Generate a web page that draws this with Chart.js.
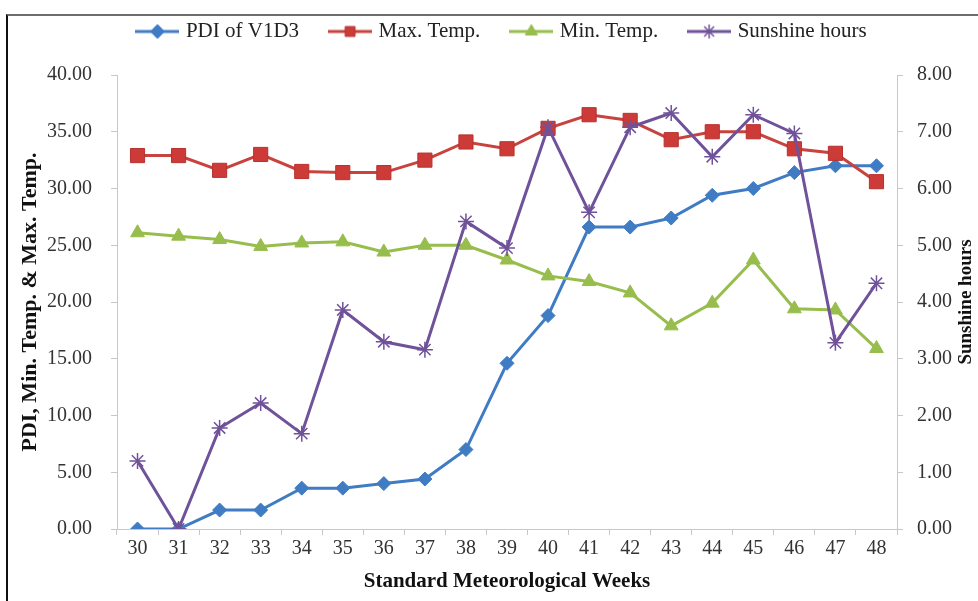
<!DOCTYPE html>
<html>
<head>
<meta charset="utf-8">
<script src="https://cdn.jsdelivr.net/npm/chart.js@4.4.1/dist/chart.umd.min.js"></script>
<style>
  html, body { margin: 0; padding: 0; background: #ffffff; }
  #wrap { position: relative; width: 978px; height: 601px; overflow: hidden; }
  #frame { position: absolute; left: 6px; top: 14px; right: -4px; bottom: -4px;
           border-top: 2px solid #6e6e6e; border-left: 2px solid #111; }
  canvas { position: absolute; left: 0; top: 0; }
</style>
</head>
<body>
<div id="wrap">
  <div id="frame"></div>
  <canvas id="chart" width="978" height="601"></canvas>
</div>
<script>
// Standard meteorological weeks
const weeks = ['30','31','32','33','34','35','36','37','38','39','40','41','42','43','44','45','46','47','48'];

// Percent disease index of V1D3
const pdi = [0.00, 0.00, 1.67, 1.67, 3.60, 3.60, 4.00, 4.40, 7.00, 14.60, 18.80, 26.60, 26.60, 27.40, 29.40, 30.00, 31.40, 32.00, 32.00];

// Maximum and minimum temperature (°C)
const maxTemp = [32.9, 32.9, 31.6, 33.0, 31.5, 31.4, 31.4, 32.5, 34.1, 33.5, 35.3, 36.5, 36.0, 34.3, 35.0, 35.0, 33.5, 33.1, 30.6];
const minTemp = [26.1, 25.8, 25.5, 24.9, 25.2, 25.3, 24.4, 25.0, 25.0, 23.7, 22.3, 21.8, 20.8, 17.9, 19.9, 23.7, 19.4, 19.3, 15.9];

// Bright sunshine hours per day (secondary axis)
const sunshine = [1.20, 0.00, 1.78, 2.22, 1.68, 3.86, 3.30, 3.16, 5.42, 4.95, 7.08, 5.58, 7.08, 7.33, 6.56, 7.30, 6.97, 3.28, 4.33];

const leftTicks = { min: 0, max: 40, step: 5 };
const rightTicks = { min: 0, max: 8, step: 1 };

const SERIF = "'Liberation Serif', 'Times New Roman', serif";
const AXIS_GREY = '#c8c8c8';

const colors = {
  pdi: '#3f7cc4',
  maxT: '#cc3b37',
  maxLine: '#c8423e',
  minT: '#97bd4c',
  sun: '#6f529a'
};

// Small line-plus-marker swatch used as the legend symbol
function legendIcon(ds) {
  const c = document.createElement('canvas');
  c.width = 44; c.height = 18;
  const ctx = c.getContext('2d');
  ctx.strokeStyle = ds.borderColor;
  ctx.lineWidth = 3;
  ctx.beginPath(); ctx.moveTo(0, 9); ctx.lineTo(44, 9); ctx.stroke();
  ctx.fillStyle = ds.pointBackgroundColor;
  ctx.strokeStyle = ds.pointBorderColor;
  ctx.lineWidth = ds.pointBorderWidth || 1;
  Chart.helpers.drawPoint(ctx, {
    pointStyle: ds.pointStyle,
    radius: Math.min(ds.pointRadius, 7),
    rotation: 0,
    borderWidth: ds.pointBorderWidth || 1
  }, 22, 9);
  return c;
}

// Right-hand axis title, read bottom-to-top like the left one
const rightTitle = {
  id: 'rightTitle',
  afterDraw(chart) {
    const ctx = chart.ctx;
    const area = chart.chartArea;
    ctx.save();
    ctx.translate(966, (area.top + area.bottom) / 2);
    ctx.rotate(-Math.PI / 2);
    ctx.font = "bold 19px " + SERIF;
    ctx.fillStyle = '#111';
    ctx.textAlign = 'center';
    ctx.textBaseline = 'middle';
    ctx.fillText('Sunshine hours', 0, 0);
    ctx.restore();
  }
};

new Chart(document.getElementById('chart'), {
  type: 'line',
  data: {
    labels: weeks,
    datasets: [
      {
        label: 'PDI of V1D3', data: pdi, yAxisID: 'y', order: 3,
        borderColor: colors.pdi, backgroundColor: colors.pdi,
        pointBackgroundColor: colors.pdi, pointBorderColor: colors.pdi,
        borderWidth: 3, pointStyle: 'rectRot', pointRadius: 7, pointBorderWidth: 1
      },
      {
        label: 'Max. Temp.', data: maxTemp, yAxisID: 'y', order: 2,
        borderColor: colors.maxLine, backgroundColor: colors.maxT,
        pointBackgroundColor: colors.maxT, pointBorderColor: '#b8322f',
        borderWidth: 3, pointStyle: 'rect', pointRadius: 10, pointBorderWidth: 1
      },
      {
        label: 'Min. Temp.', data: minTemp, yAxisID: 'y', order: 1,
        borderColor: colors.minT, backgroundColor: colors.minT,
        pointBackgroundColor: colors.minT, pointBorderColor: colors.minT,
        borderWidth: 3, pointStyle: 'triangle', pointRadius: 8, pointBorderWidth: 1
      },
      {
        label: 'Sunshine hours', data: sunshine, yAxisID: 'y1', order: 0,
        borderColor: colors.sun, backgroundColor: colors.sun,
        pointBackgroundColor: colors.sun, pointBorderColor: colors.sun,
        borderWidth: 3, pointStyle: 'star', pointRadius: 8, pointBorderWidth: 1.5
      }
    ]
  },
  options: {
    responsive: false,
    animation: false,
    events: [],
    // right padding runs past the canvas edge so the legend sits centred over the plot
    layout: { padding: { left: 8, right: -20, top: -12, bottom: 0 } },
    plugins: {
      tooltip: { enabled: false },
      legend: {
        position: 'top',
        labels: {
          usePointStyle: true,
          pointStyleWidth: 36,
          padding: 33,
          color: '#222',
          font: { family: SERIF, size: 21 },
          generateLabels(chart) {
            return chart.data.datasets.map((ds, i) => ({
              text: ds.label,
              datasetIndex: i,
              pointStyle: legendIcon(ds),
              fillStyle: ds.borderColor,
              strokeStyle: ds.borderColor,
              lineWidth: 0,
              fontColor: '#222',
              hidden: !chart.isDatasetVisible(i)
            }));
          }
        }
      }
    },
    scales: {
      x: {
        type: 'category',
        offset: true,
        grid: { display: true, drawOnChartArea: false, offset: true, tickLength: 6, color: AXIS_GREY },
        border: { display: true, color: AXIS_GREY, width: 1 },
        ticks: { color: '#333', padding: 2, maxRotation: 0, autoSkip: false, font: { family: SERIF, size: 20 } },
        title: { display: true, text: 'Standard Meteorological Weeks', color: '#111',
                 font: { family: SERIF, size: 21, weight: 'bold' }, padding: { top: 4, bottom: 7 } },
        afterFit(scale) { scale.height = 72; }
      },
      // empty band between the legend and the plot
      xTop: {
        type: 'category',
        position: 'top',
        offset: true,
        grid: { display: false },
        border: { display: false },
        ticks: { display: false },
        afterFit(scale) { scale.height = 23; }
      },
      y: {
        position: 'left',
        min: leftTicks.min, max: leftTicks.max,
        grid: { display: true, drawOnChartArea: false, tickLength: 6, color: AXIS_GREY },
        border: { display: true, color: AXIS_GREY, width: 1 },
        ticks: { stepSize: leftTicks.step, color: '#333', padding: 19,
                 font: { family: SERIF, size: 20 }, callback: v => v.toFixed(2) },
        title: { display: true, text: 'PDI, Min. Temp. & Max. Temp.', color: '#111',
                 font: { family: SERIF, size: 22, weight: 'bold' }, padding: { top: 9, bottom: 0 } },
        afterFit(scale) { scale.width = 109; }
      },
      y1: {
        position: 'right',
        min: rightTicks.min, max: rightTicks.max,
        grid: { display: true, drawOnChartArea: false, tickLength: 6, color: AXIS_GREY },
        border: { display: true, color: AXIS_GREY, width: 1 },
        ticks: { stepSize: rightTicks.step, color: '#333', padding: 14,
                 font: { family: SERIF, size: 20 }, callback: v => v.toFixed(2) },
        afterFit(scale) { scale.width = 101; }
      }
    }
  },
  plugins: [rightTitle]
});
</script>
</body>
</html>
